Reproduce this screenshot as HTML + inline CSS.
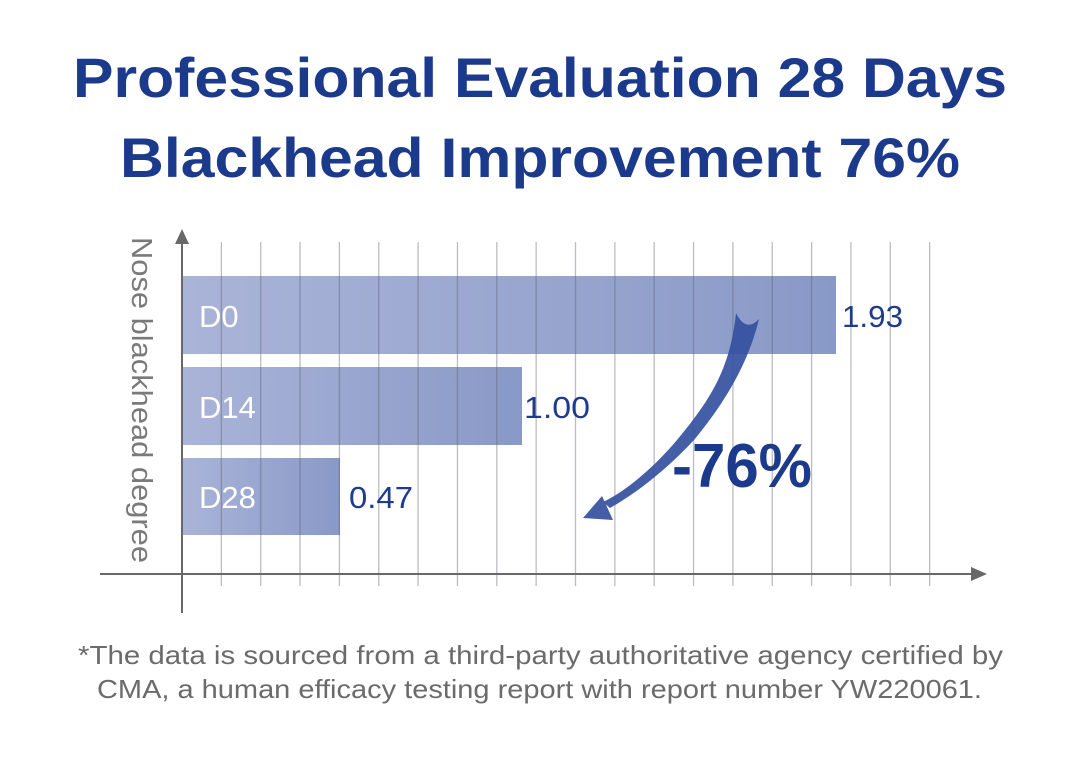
<!DOCTYPE html>
<html>
<head>
<meta charset="utf-8">
<style>
  html, body { margin: 0; padding: 0; background: #ffffff; }
  body { width: 1080px; height: 758px; overflow: hidden; }
  svg { display: block; }
</style>
</head>
<body>
<svg width="1080" height="758" viewBox="0 0 1080 758" xmlns="http://www.w3.org/2000/svg">
  <defs>
    <linearGradient id="barg" x1="0" y1="0" x2="1" y2="0">
      <stop offset="0" stop-color="#aab4d8"/>
      <stop offset="1" stop-color="#8999c7"/>
    </linearGradient>
  </defs>
  <rect x="0" y="0" width="1080" height="758" fill="#ffffff"/>

  <!-- Title -->
  <g font-family="'Liberation Sans', sans-serif" font-weight="bold" fill="#1c3a8c" font-size="56">
    <text x="73" y="97" textLength="934" lengthAdjust="spacingAndGlyphs">Professional Evaluation 28 Days</text>
    <text x="120" y="177" textLength="840" lengthAdjust="spacingAndGlyphs">Blackhead Improvement 76%</text>
  </g>

  <!-- Bars -->
  <rect x="182" y="276" width="654" height="78" fill="url(#barg)"/>
  <rect x="182" y="367" width="340" height="78" fill="url(#barg)"/>
  <rect x="182" y="458" width="158" height="77" fill="url(#barg)"/>

  <!-- Grid lines -->
  <g stroke="rgba(95,95,110,0.42)" stroke-width="1.3">
    <line x1="221.35" y1="242" x2="221.35" y2="586"/>
    <line x1="260.7" y1="242" x2="260.7" y2="586"/>
    <line x1="300.05" y1="242" x2="300.05" y2="586"/>
    <line x1="339.4" y1="242" x2="339.4" y2="586"/>
    <line x1="378.75" y1="242" x2="378.75" y2="586"/>
    <line x1="418.1" y1="242" x2="418.1" y2="586"/>
    <line x1="457.45" y1="242" x2="457.45" y2="586"/>
    <line x1="496.8" y1="242" x2="496.8" y2="586"/>
    <line x1="536.15" y1="242" x2="536.15" y2="586"/>
    <line x1="575.5" y1="242" x2="575.5" y2="586"/>
    <line x1="614.85" y1="242" x2="614.85" y2="586"/>
    <line x1="654.2" y1="242" x2="654.2" y2="586"/>
    <line x1="693.55" y1="242" x2="693.55" y2="586"/>
    <line x1="732.9" y1="242" x2="732.9" y2="586"/>
    <line x1="772.25" y1="242" x2="772.25" y2="586"/>
    <line x1="811.6" y1="242" x2="811.6" y2="586"/>
    <line x1="850.95" y1="242" x2="850.95" y2="586"/>
    <line x1="890.3" y1="242" x2="890.3" y2="586"/>
    <line x1="929.65" y1="242" x2="929.65" y2="586"/>
  </g>

  <!-- Axes -->
  <g stroke="#686868" stroke-width="2">
    <line x1="182" y1="242" x2="182" y2="613"/>
    <line x1="100" y1="574" x2="973" y2="574"/>
  </g>
  <polygon points="182,229 175,244 189,244" fill="#686868"/>
  <polygon points="987,574 971,567 971,581" fill="#686868"/>

  <!-- Y axis label -->
  <text transform="translate(132,237) rotate(90)" font-family="'Liberation Sans', sans-serif" font-size="29" fill="#7a7a7a" textLength="326" lengthAdjust="spacingAndGlyphs">Nose blackhead degree</text>

  <!-- Bar labels -->
  <g font-family="'Liberation Sans', sans-serif" font-size="31" fill="#ffffff">
    <text x="199" y="327">D0</text>
    <text x="199" y="418">D14</text>
    <text x="199" y="508">D28</text>
  </g>

  <!-- Values -->
  <g font-family="'Liberation Sans', sans-serif" font-size="31" fill="#1f3b8c">
    <text x="842" y="327" textLength="61" lengthAdjust="spacingAndGlyphs">1.93</text>
    <text x="524" y="418" textLength="66" lengthAdjust="spacingAndGlyphs">1.00</text>
    <text x="349" y="508" textLength="64" lengthAdjust="spacingAndGlyphs">0.47</text>
  </g>

  <!-- Curved arrow -->
  <g fill="#34509f" opacity="0.92">
    <path d="M736,313 C 730,370 710,400 677,440 C 656,465 628,490 603,502 L 610,508 C 638,492 666,470 694,440 C 723,405 748,365 759,319 Q 746,333 736,313 Z"/>
    <polygon points="583,518 602,496 613,520"/>
  </g>

  <!-- -76% -->
  <text x="672" y="487" font-family="'Liberation Sans', sans-serif" font-weight="bold" font-size="62" fill="#1c3a8c" textLength="140" lengthAdjust="spacingAndGlyphs">-76%</text>

  <!-- Footer -->
  <g font-family="'Liberation Sans', sans-serif" font-size="26" fill="#6b6b6b">
    <text x="78" y="664" textLength="925" lengthAdjust="spacingAndGlyphs">*The data is sourced from a third-party authoritative agency certified by</text>
    <text x="97" y="698" textLength="885" lengthAdjust="spacingAndGlyphs">CMA, a human efficacy testing report with report number YW220061.</text>
  </g>
</svg>
</body>
</html>
